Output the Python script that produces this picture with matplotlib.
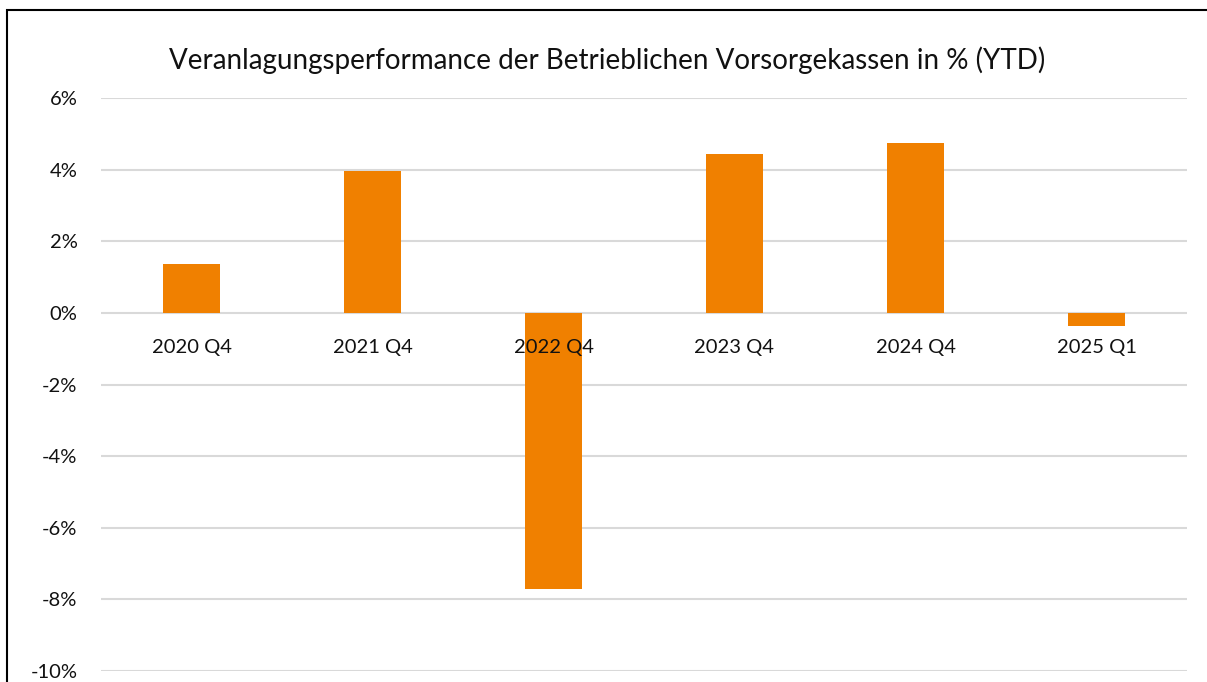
import matplotlib
matplotlib.use("Agg")
import matplotlib.pyplot as plt
from matplotlib.patches import Rectangle

categories = ["2020 Q4", "2021 Q4", "2022 Q4", "2023 Q4", "2024 Q4", "2025 Q1"]
values = [1.37, 3.97, -7.72, 4.43, 4.73, -0.37]
yticks = [-10, -8, -6, -4, -2, 0, 2, 4, 6]
title = "Veranlagungsperformance der Betrieblichen Vorsorgekassen in % (YTD)"

plt.rcParams['font.family'] = ['Lato', 'DejaVu Sans']

W, H = 1207, 682
fig = plt.figure(figsize=(W / 100, H / 100), dpi=100)
ax = fig.add_axes([101 / W, 11 / H, (1187 - 101) / W, (671 - 98) / H])

x = list(range(len(categories)))
ax.bar(x, values, width=0.315, color="#F08000", zorder=3)
ax.set_xlim(-0.5, len(categories) - 0.5)
ax.set_ylim(-10, 6)
ax.set_yticks(yticks)
ax.set_yticklabels([f"{t}%" for t in yticks], fontsize=14.5, color="#111111")
ax.tick_params(axis="y", length=0, pad=17)
ax.set_xticks([])
ax.grid(axis="y", color="#D9D9D9", linewidth=1.5, zorder=0)
for s in ax.spines.values():
    s.set_visible(False)

for xi, lab in zip(x, categories):
    ax.annotate(lab, xy=(xi, 0), xytext=(0, -25), textcoords="offset points",
                ha="center", va="center", fontsize=14.5, color="#111111", zorder=4)

fig.text(607 / W, 1 - 60 / H, title, ha="center", va="center", fontsize=20, color="#111111")

fig.patches.append(Rectangle((7 / W, -0.1), 1.2, 1 - 10 / H + 0.1, transform=fig.transFigure,
                             fill=False, edgecolor="black", linewidth=1.5))

fig.savefig("out.png", dpi=100)
